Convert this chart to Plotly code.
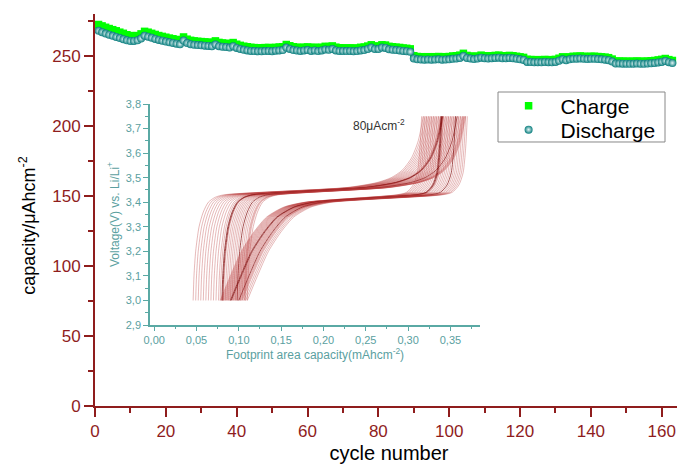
import plotly.graph_objects as go

# ---------------- main chart data ----------------
cycles = list(range(1, 164))

discharge = [
    268.0, 267.0, 266.0, 265.2, 264.4, 263.6, 262.8, 262.0, 261.2, 260.7,
    260.8, 261.2, 262.5, 264.5, 263.8, 263.0, 262.2, 261.5, 260.9, 260.3,
    259.8, 259.3, 258.8, 258.4, 261.0, 259.2, 258.4, 258.0, 257.8, 257.6,
    257.4, 257.2, 257.0, 258.2, 257.0, 256.6, 256.4, 256.0, 257.0, 255.8,
    255.0, 254.4, 254.0, 253.6, 253.5, 253.4, 253.4, 253.5, 253.6, 253.4,
    253.8, 254.0, 254.2, 256.0, 255.0, 254.2, 253.9, 253.6, 254.0, 254.2,
    253.6, 254.0, 253.5, 254.0, 254.6, 254.4, 255.0, 254.0, 253.6, 253.6,
    253.5, 253.6, 253.4, 253.5, 254.0, 254.2, 255.0, 256.0, 255.0, 255.0,
    256.0, 255.8, 254.8, 254.5, 254.2, 254.0, 253.6, 253.4, 253.0, 248.2,
    247.6, 247.5, 247.4, 247.5, 247.4, 247.5, 247.6, 247.4, 247.5, 247.6,
    248.0, 248.2, 248.6, 250.0, 248.6, 248.2, 247.8, 248.2, 248.8, 248.4,
    248.2, 248.4, 248.6, 248.8, 248.4, 248.4, 248.6, 248.4, 248.0, 247.6,
    247.2, 245.8, 245.7, 245.5, 245.6, 245.5, 245.7, 245.6, 245.5, 245.8,
    246.6, 247.6, 247.0, 247.6, 248.0, 248.0, 248.2, 248.0, 247.8, 248.0,
    248.0, 247.8, 247.6, 247.4, 247.0, 246.0, 244.6, 244.6, 244.5, 244.5,
    244.4, 244.5, 244.6, 244.5, 244.4, 244.6, 244.8, 245.0, 245.4, 245.8,
    246.4, 245.6, 245.0,
]

charge = [
    272.5, 271.5, 270.5, 269.6, 268.8, 268.0, 267.0, 266.2, 265.2, 264.6,
    264.4, 264.6, 265.8, 267.6, 267.0, 266.2, 265.4, 264.6, 264.0, 263.4,
    262.8, 262.3, 261.8, 261.3, 263.6, 262.0, 261.2, 260.8, 260.5, 260.3,
    260.1, 259.9, 259.7, 260.8, 259.7, 259.3, 259.1, 258.7, 259.6, 258.4,
    257.6, 257.0, 256.6, 256.2, 256.0, 255.9, 255.9, 256.0, 256.1, 255.9,
    256.2, 256.4, 256.6, 258.2, 257.3, 256.6, 256.3, 256.0, 256.3, 256.5,
    256.0, 256.3, 255.9, 256.3, 256.9, 256.7, 257.2, 256.3, 255.9, 255.8,
    255.7, 255.8, 255.6, 255.7, 256.2, 256.4, 257.1, 258.0, 257.1, 257.1,
    258.0, 257.8, 256.9, 256.6, 256.3, 256.1, 255.7, 255.5, 255.1, 250.2,
    249.6, 249.5, 249.4, 249.5, 249.4, 249.5, 249.6, 249.4, 249.5, 249.6,
    250.0, 250.2, 250.6, 251.9, 250.4, 250.0, 249.6, 250.0, 250.6, 250.2,
    250.0, 250.2, 250.4, 250.6, 250.2, 250.2, 250.4, 250.2, 249.8, 249.4,
    249.0, 247.6, 247.5, 247.3, 247.4, 247.3, 247.5, 247.4, 247.3, 247.6,
    248.4, 249.4, 248.8, 249.4, 249.8, 249.8, 250.0, 249.8, 249.6, 249.8,
    249.8, 249.6, 249.4, 249.2, 248.8, 247.8, 246.4, 246.4, 246.3, 246.3,
    246.2, 246.3, 246.4, 246.3, 246.2, 246.4, 246.6, 246.8, 247.2, 247.6,
    248.2, 247.4, 246.8,
]

x_ticks = [0, 20, 40, 60, 80, 100, 120, 140, 160]
y_ticks = [0, 50, 100, 150, 200, 250]

# ---------------- inset data (voltage profiles) ----------------
# capacity where each charge curve leaves 3.0 V and reaches the 3.75 V cut-off
chg_start = [0.046, 0.049, 0.052, 0.055, 0.058, 0.061, 0.064, 0.067, 0.070, 0.073,
             0.076, 0.078, 0.080, 0.081, 0.082, 0.084, 0.086, 0.088, 0.090, 0.092,
             0.094, 0.096, 0.098, 0.100, 0.102, 0.104, 0.106, 0.107, 0.108, 0.110]
chg_end = [0.318, 0.320, 0.322, 0.324, 0.326, 0.328, 0.330, 0.332, 0.334, 0.336,
           0.338, 0.339, 0.340, 0.341, 0.342, 0.344, 0.346, 0.348, 0.350, 0.352,
           0.354, 0.356, 0.358, 0.360, 0.362, 0.364, 0.365, 0.366, 0.367, 0.368]
# capacity where each discharge curve starts (3.75 V) and ends (3.0 V)
dis_start = [0.316, 0.318, 0.320, 0.322, 0.324, 0.326, 0.328, 0.330, 0.332, 0.334,
             0.336, 0.338, 0.339, 0.340, 0.341, 0.342, 0.344, 0.346, 0.348, 0.350,
             0.352, 0.354, 0.356, 0.358, 0.360, 0.362, 0.364, 0.366, 0.368, 0.370]
dis_end = [0.078, 0.079, 0.080, 0.081, 0.082, 0.083, 0.084, 0.085, 0.086, 0.087,
           0.088, 0.089, 0.090, 0.091, 0.092, 0.093, 0.094, 0.095, 0.096, 0.097,
           0.098, 0.099, 0.100, 0.101, 0.102, 0.103, 0.104, 0.106, 0.108, 0.110]

# profile shapes (capacity offsets / voltages)
chg_head_dx = [0.000, 0.001, 0.003, 0.007, 0.012, 0.018, 0.026, 0.036]
chg_head_v = [3.00, 3.10, 3.20, 3.30, 3.36, 3.40, 3.42, 3.43]
chg_tail_dx = [-0.090, -0.055, -0.038, -0.025, -0.014, -0.006, 0.000]
chg_tail_v = [3.46, 3.48, 3.50, 3.53, 3.58, 3.65, 3.75]
dis_head_dx = [0.000, -0.002, -0.005, -0.010, -0.018, -0.030]
dis_head_v = [3.75, 3.62, 3.52, 3.47, 3.44, 3.43]
dis_tail_dx = [0.100, 0.075, 0.055, 0.040, 0.025, 0.012, 0.000]
dis_tail_v = [3.40, 3.38, 3.34, 3.28, 3.20, 3.10, 3.00]

inset_x_ticks = [0.00, 0.05, 0.10, 0.15, 0.20, 0.25, 0.30, 0.35]

# ---------------- styles ----------------
RED = "#8F1D1D"
TEAL = "#5AA9A4"
TEAL_TXT = "#5B9F9F"
FONT = "Liberation Sans, Arial, sans-serif"
dark_curves = {12, 13, 22}

fig = go.Figure()

# inset curves
for k in range(len(chg_start)):
    col = "rgba(130,10,10,0.9)" if k in dark_curves else "rgba(185,60,60,0.45)"
    xs = [chg_start[k] + d for d in chg_head_dx] + [chg_end[k] + d for d in chg_tail_dx]
    ys = chg_head_v + chg_tail_v
    fig.add_trace(go.Scatter(x=xs, y=ys, mode="lines", xaxis="x2", yaxis="y2",
                             line=dict(color=col, width=0.8, shape="spline", smoothing=0.7),
                             showlegend=False, hoverinfo="skip"))
for k in range(len(dis_start)):
    col = "rgba(130,10,10,0.9)" if k in dark_curves else "rgba(185,60,60,0.45)"
    xs = [dis_start[k] + d for d in dis_head_dx] + [dis_end[k] + d for d in dis_tail_dx]
    ys = dis_head_v + dis_tail_v
    fig.add_trace(go.Scatter(x=xs, y=ys, mode="lines", xaxis="x2", yaxis="y2",
                             line=dict(color=col, width=0.8, shape="spline", smoothing=0.7),
                             showlegend=False, hoverinfo="skip"))

# main series
fig.add_trace(go.Scatter(x=cycles, y=charge, mode="markers", name="Charge", legend="legend",
                         marker=dict(symbol="square", size=7.5, color="#00FF00")))
fig.add_trace(go.Scatter(x=cycles, y=discharge, mode="markers", name="Discharge", legend="legend2",
                         marker=dict(symbol="circle", size=8, color="#0A7E7E",
                                     gradient=dict(type="radial", color="#E6F6F6"),
                                     line=dict(width=0))))

legend_style = dict(xanchor="left", yanchor="middle", borderwidth=0,
                    bgcolor="rgba(0,0,0,0)", itemwidth=54,
                    font=dict(size=21, color="black", family=FONT))

# the page body has an 8px margin, so the figure is 8px smaller than the window
fig.update_layout(
    width=677, height=457,
    margin=dict(l=87, r=2, t=6, b=59, autoexpand=False),
    paper_bgcolor="white", plot_bgcolor="white",
    separators=",.",
    font=dict(family=FONT, color="black"),
    showlegend=True,
    legend=dict(x=0.683, y=0.7653, **legend_style),
    legend2=dict(x=0.683, y=0.7041, **legend_style),
    shapes=[dict(type="rect", xref="paper", yref="paper", x0=0.6854, x1=0.9694,
                 y0=0.6735, y1=0.801, line=dict(color="#888888", width=1),
                 fillcolor="rgba(0,0,0,0)", layer="below")],
    xaxis=dict(range=[0, 166], tickvals=x_ticks, ticks="outside", ticklen=9, tickwidth=1.5,
               tickcolor=RED, showline=True, linecolor=RED, linewidth=2, automargin=False,
               minor=dict(dtick=10, ticks="outside", ticklen=5, tickwidth=1.5, tickcolor=RED),
               tickfont=dict(size=17, color=RED, family=FONT),
               title=dict(text="cycle number", font=dict(size=20, color="black", family=FONT),
                          standoff=6),
               showgrid=False, zeroline=False),
    yaxis=dict(range=[0, 280], tickvals=y_ticks, ticks="outside", ticklen=9, tickwidth=1.5,
               tickcolor=RED, showline=True, linecolor=RED, linewidth=2, automargin=False,
               minor=dict(dtick=25, ticks="outside", ticklen=5, tickwidth=1.5, tickcolor=RED),
               tickfont=dict(size=17, color=RED, family=FONT),
               showgrid=False, zeroline=False),
    xaxis3=dict(overlaying="x", side="top", anchor="y", range=[0, 9.84],
                tickvals=[2, 4, 6, 8], ticks="inside", ticklen=8, tickwidth=1.5, tickcolor=RED,
                minor=dict(tickvals=[1, 3, 5, 7, 9], ticks="inside", ticklen=5, tickwidth=1.5,
                           tickcolor=RED),
                showticklabels=False, showline=True, linecolor=RED, linewidth=2,
                showgrid=False, zeroline=False),
    yaxis3=dict(overlaying="y", side="right", anchor="x", range=[0, 5],
                tickvals=[1, 2, 3, 4], ticks="inside", ticklen=6, tickwidth=1.5, tickcolor=RED,
                showticklabels=False, showline=True, linecolor=RED, linewidth=2,
                showgrid=False, zeroline=False),
    # inset
    xaxis2=dict(domain=[0.0935, 0.6548], anchor="y2", range=[-0.005, 0.385],
                tickvals=inset_x_ticks, tickformat=".2f", ticks="outside", ticklen=4,
                tickwidth=1, tickcolor=TEAL,
                minor=dict(dtick=0.025, tick0=0, ticks="outside", ticklen=2, tickcolor=TEAL),
                showline=True, linecolor=TEAL, linewidth=1.5,
                tickfont=dict(size=11, color=TEAL_TXT, family=FONT),
                title=dict(text="Footprint area capacity(mAhcm<sup>-2</sup>)",
                           font=dict(size=12, color=TEAL_TXT, family=FONT), standoff=4),
                showgrid=False, zeroline=False),
    yaxis2=dict(domain=[0.2066, 0.7704], anchor="x2", range=[2.9, 3.8], dtick=0.1, tick0=2.9,
                tickformat=".1f", ticks="outside", ticklen=5, tickwidth=1, tickcolor=TEAL,
                minor=dict(dtick=0.05, tick0=2.9, ticks="outside", ticklen=3, tickcolor=TEAL),
                showline=True, linecolor=TEAL, linewidth=1.5,
                tickfont=dict(size=11, color=TEAL_TXT, family=FONT),
                title=dict(text="Voltage(V) vs. Li/Li<sup>+</sup>",
                           font=dict(size=12, color=TEAL_TXT, family=FONT), standoff=4),
                showgrid=False, zeroline=False),
    xaxis4=dict(overlaying="x2", side="top", anchor="y2", range=[0, 9.9],
                dtick=1, tick0=0, ticks="inside", ticklen=4, tickwidth=1, tickcolor=TEAL,
                showticklabels=False, showline=True, linecolor=TEAL, linewidth=1.5,
                showgrid=False, zeroline=False),
    yaxis4=dict(overlaying="y2", side="right", anchor="x2", range=[0, 9.9],
                dtick=1, tick0=0, ticks="inside", ticklen=4, tickwidth=1, tickcolor=TEAL,
                showticklabels=False, showline=True, linecolor=TEAL, linewidth=1.5,
                showgrid=False, zeroline=False),
    annotations=[
        dict(text="capacity/\u03bcAhcm<sup>-2</sup>", xref="paper", yref="paper",
             x=-0.114, y=0.462, textangle=-90, showarrow=False,
             font=dict(size=18, color="black", family=FONT), xanchor="center", yanchor="middle"),
        dict(text="80\u03bcAcm<sup>-2</sup>", xref="x2", yref="y2", x=0.266, y=3.715,
             showarrow=False, font=dict(size=12, color="#333333", family=FONT)),
    ],
)

fig.write_html("out.html")
